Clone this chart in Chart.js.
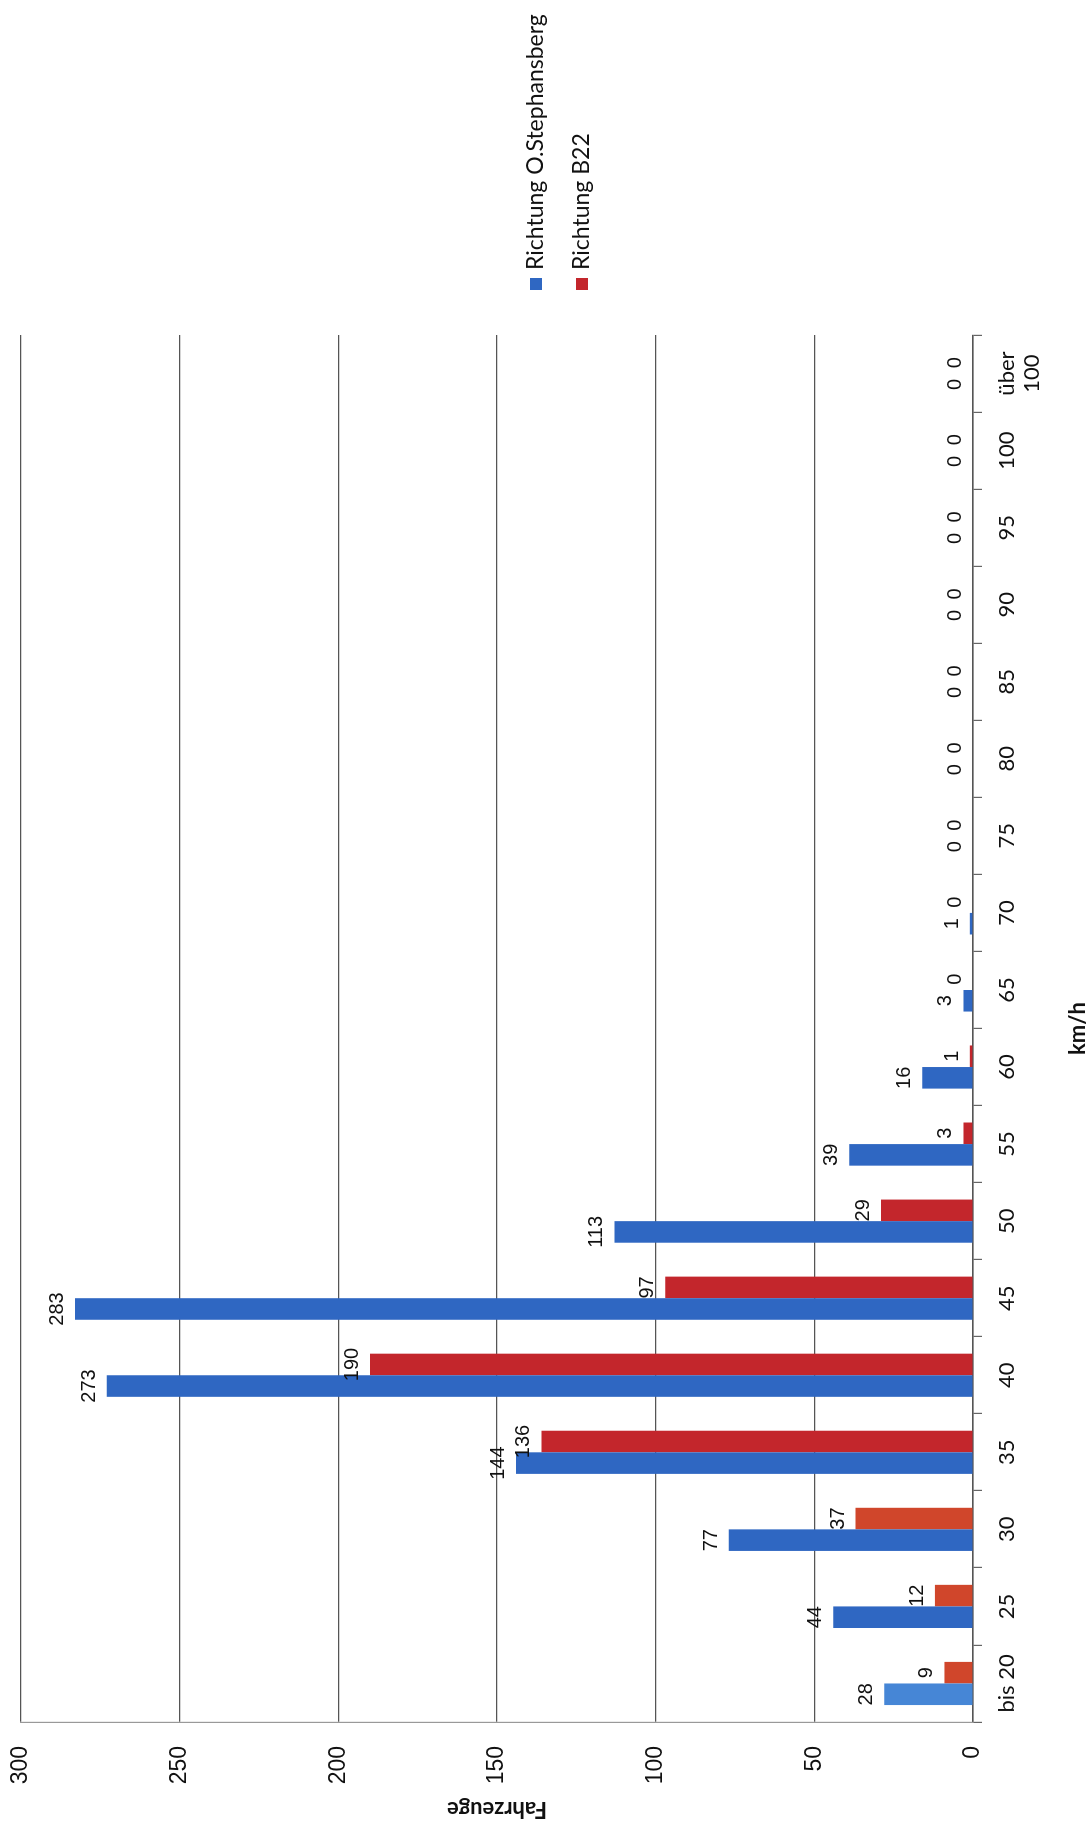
<!DOCTYPE html>
<html>
<head>
<meta charset="utf-8">
<script src="https://cdn.jsdelivr.net/npm/chart.js@4.4.0/dist/chart.umd.min.js"></script>
<style>
    html, body { margin: 0; padding: 0; background: #ffffff; }
    #page { position: relative; width: 1092px; height: 1827px; overflow: hidden; }
    /* chart is laid out landscape and turned a quarter to the left */
    #turn {
        position: absolute; left: 0; top: 0;
        width: 1827px; height: 1092px;
        transform-origin: 0 0;
        transform: translate(0, 1827px) rotate(-90deg);
    }
</style>
</head>
<body>
<div id="page"><div id="turn"><canvas id="speed_chart" width="1827" height="1092"></canvas></div></div>
<script>
/* global Chart */

const speed_classes = ["bis 20", "25", "30", "35", "40", "45", "50", "55", "60",
    "65", "70", "75", "80", "85", "90", "95", "100", ["über", "100"]];

const series_names = ["Richtung O.Stephansberg", "Richtung B22"];

const to_stephansberg = [28, 44, 77, 144, 273, 283, 113, 39, 16, 3, 1, 0, 0, 0, 0, 0, 0, 0];
const to_b22 = [9, 12, 37, 136, 190, 97, 29, 3, 1, 0, 0, 0, 0, 0, 0, 0, 0, 0];

const vehicle_ticks = [0, 50, 100, 150, 200, 250, 300];

const BLUE = "#2f67c2";
const RED = "#c3262c";

const speed_chart = document.getElementById("speed_chart");

// value written above every bar
const barValues = {
    id: "barValues",
    afterDatasetsDraw(chart) {
        const ctx = chart.ctx;
        ctx.save();
        ctx.font = "20px 'Liberation Sans'";
        ctx.fillStyle = "#111";
        ctx.textAlign = "center";
        ctx.textBaseline = "alphabetic";
        chart.data.datasets.forEach((ds, i) => {
            chart.getDatasetMeta(i).data.forEach((bar, j) => {
                ctx.fillText(String(ds.data[j]), bar.x, bar.y - 12);
            });
        });
        ctx.restore();
    },
};

// legend column to the right of the plot
const sideLegend = {
    id: "sideLegend",
    afterDraw(chart) {
        const ctx = chart.ctx;
        const x = chart.chartArea.right + 45;
        ctx.save();
        ctx.font = "23px Lato";
        ctx.textBaseline = "middle";
        ctx.textAlign = "left";
        chart.data.datasets.forEach((ds, i) => {
            const y = 536 + i * 46;
            ctx.fillStyle = i === 0 ? BLUE : RED;
            ctx.fillRect(x, y - 6, 12, 12);
            ctx.fillStyle = "#111";
            ctx.fillText(ds.label, x + 20, y);
        });
        ctx.restore();
    },
};

new Chart(speed_chart, {
    type: "bar",
    data: {
        labels: speed_classes,
        datasets: [
            {
                label: series_names[0],
                data: to_stephansberg,
                backgroundColor: (c) => (c.dataIndex === 0 ? "#4686d6" : BLUE),
            },
            {
                label: series_names[1],
                data: to_b22,
                backgroundColor: (c) => (c.dataIndex < 3 ? "#d0462b" : RED),
            },
        ],
    },
    options: {
        responsive: false,
        animation: false,
        layout: {
            padding: { top: 21, right: 335, bottom: 0, left: 0 },
        },
        datasets: {
            bar: {
                categoryPercentage: 0.56,
                barPercentage: 1.0,
            },
        },
        plugins: {
            legend: { display: false },
            tooltip: { enabled: false },
        },
        scales: {
            x: {
                grid: {
                    display: true,
                    drawOnChartArea: false,
                    drawTicks: true,
                    tickLength: 9,
                    color: "#666",
                    lineWidth: 1.2,
                },
                border: { color: "#555", width: 1.5 },
                ticks: {
                    color: "#111",
                    padding: 12,
                    maxRotation: 0,
                    autoSkip: false,
                    font: { family: "Lato", size: 22, lineHeight: 1.15 },
                },
                title: {
                    display: true,
                    text: "km/h",
                    color: "#111",
                    font: { family: "Lato", size: 22, weight: "bold" },
                    padding: { top: 0, bottom: 1 },
                },
                afterFit: (axis) => {
                    axis.height = 119;
                },
            },
            y: {
                min: 0,
                max: 300,
                afterBuildTicks: (axis) => {
                    axis.ticks = vehicle_ticks.map((v) => ({ value: v }));
                },
                grid: {
                    color: "#555",
                    lineWidth: 1.2,
                    drawTicks: false,
                },
                border: { color: "#999", width: 1.2 },
                ticks: {
                    color: "#111",
                    padding: 24,
                    font: { family: "Liberation Sans", size: 23 },
                },
                title: {
                    display: true,
                    text: "Fahrzeuge",
                    color: "#111",
                    font: { family: "Lato", size: 22, weight: "bold" },
                    padding: { top: 5, bottom: 0 },
                },
                afterFit: (axis) => {
                    axis.width = 105;
                    axis.paddingTop = 0;
                    axis.paddingBottom = 0;
                },
            },
        },
    },
    plugins: [barValues, sideLegend],
});
</script>
</body>
</html>
